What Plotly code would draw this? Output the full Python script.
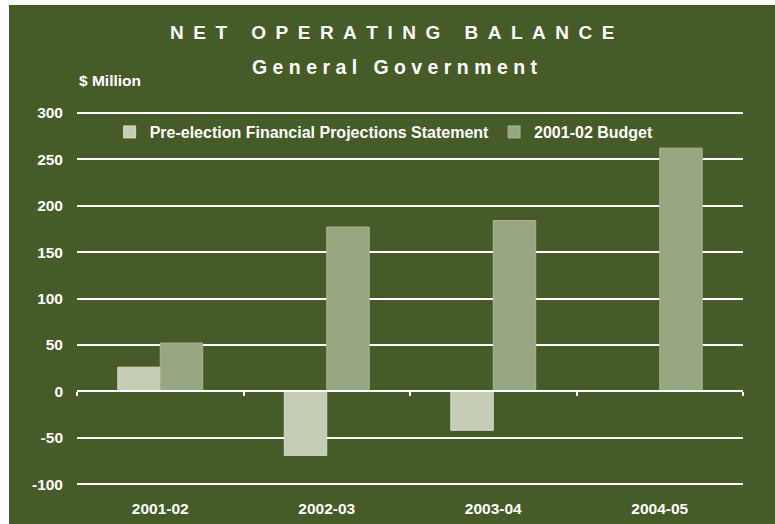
import plotly.graph_objects as go

categories = ["2001-02", "2002-03", "2003-04", "2004-05"]
pre_election = [26, -69, -42, None]
budget = [52, 177, 184, 262]
series_names = ["Pre-election Financial Projections Statement", "2001-02 Budget"]
y_ticks = [-100, -50, 0, 50, 100, 150, 200, 250, 300]
y_tick_labels = ["-100", "-50", "0", "50", "100", "150", "200", "250", "300"]
title_text = "NET OPERATING BALANCE"
subtitle_text = "General Government"

BG = "#465B27"
C_PRE = "#C5CEB5"
C_BUD = "#98A783"
FONT = "Liberation Sans, Arial, sans-serif"

W, H = 775, 524
ML, MR, MT, MB = 77, 32, 111, 38
PW = W - ML - MR
PH = H - MT - MB
Y_RANGE = [-102, 302]


def spaced(text, letter_gap, word_gap):
    words = text.split(" ")
    return word_gap.join(letter_gap.join(list(w)) for w in words)


fig = go.Figure()
fig.add_trace(go.Bar(x=categories, y=pre_election, name=series_names[0],
                     marker=dict(color=C_PRE, line=dict(color="#D3DAC6", width=1))))
fig.add_trace(go.Bar(x=categories, y=budget, name=series_names[1],
                     marker=dict(color=C_BUD, line=dict(color="#A9B594", width=1))))
# invisible helper trace so the zero-line axis (with boundary ticks) is drawn
fig.add_trace(go.Scatter(x=categories, y=[None] * len(categories), xaxis="x2",
                         showlegend=False, hoverinfo="skip", mode="lines"))

fig.update_layout(
    width=W, height=H,
    margin=dict(l=ML, r=MR, t=MT, b=MB, autoexpand=False),
    paper_bgcolor=BG, plot_bgcolor=BG,
    barmode="group", bargap=0.49, bargroupgap=0,
    font=dict(family=FONT, color="white", size=12),
    showlegend=True,
    legend=dict(orientation="h", x=0.049, y=1 - 4 / PH, xanchor="left", yanchor="top",
                font=dict(size=16, family=FONT, color="white", weight="bold"),
                bgcolor="rgba(0,0,0,0)", itemwidth=30, traceorder="normal"),
    xaxis=dict(type="category", categoryarray=categories, categoryorder="array",
               showgrid=False, showline=False, ticks="", zeroline=False, range=[-0.5, 3.5],
               automargin=False,
               tickfont=dict(size=15.5, weight="bold", color="white"), ticklabelstandoff=11),
    xaxis2=dict(type="category", categoryarray=categories, categoryorder="array",
                overlaying="x", anchor="free", automargin=False,
                position=(0 - Y_RANGE[0]) / (Y_RANGE[1] - Y_RANGE[0]), range=[-0.5, 3.5],
                showline=True, linecolor="white", linewidth=2, ticks="outside", ticklen=4,
                tickcolor="white", tickwidth=1.5, tickson="boundaries",
                showticklabels=False, showgrid=False, zeroline=False),
    yaxis=dict(range=Y_RANGE, tickvals=y_ticks, ticktext=y_tick_labels, showgrid=True,
               gridcolor="white", gridwidth=2, zeroline=False, showline=False, ticks="",
               automargin=False,
               tickfont=dict(size=15.5, weight="bold", color="white"), ticklabelstandoff=13),
    shapes=[
        dict(type="rect", xref="paper", yref="paper", layer="below",
             x0=-ML / PW - 0.01, x1=(9 - ML) / PW, y0=-MB / PH - 0.02, y1=1 + MT / PH + 0.02,
             fillcolor="white", line=dict(width=0)),
        dict(type="rect", xref="paper", yref="paper", layer="below",
             x0=-ML / PW - 0.01, x1=1 + MR / PW + 0.02, y0=1 + (MT - 5) / PH, y1=1 + MT / PH + 0.02,
             fillcolor="white", line=dict(width=0)),
    ],
    annotations=[
        dict(text=spaced(title_text, "&#8194;", "&#8194;&#8194;&nbsp;"),
             xref="paper", yref="paper", x=(392 - ML) / PW, y=(H - MB - 32) / PH,
             xanchor="center", yanchor="middle", showarrow=False,
             font=dict(size=19, weight="bold", color="white", family=FONT)),
        dict(text=spaced(subtitle_text, "&nbsp;", "&nbsp;&nbsp;&nbsp;"),
             xref="paper", yref="paper", x=(395 - ML) / PW, y=(H - MB - 67) / PH,
             xanchor="center", yanchor="middle", showarrow=False,
             font=dict(size=19.5, weight="bold", color="white", family=FONT)),
        dict(text="$ Million", xref="paper", yref="paper", x=0, y=(H - MB - 80) / PH,
             xanchor="left", yanchor="middle", showarrow=False,
             font=dict(size=15.5, weight="bold", color="white", family=FONT)),
    ],
)

fig.write_html("out.html")
